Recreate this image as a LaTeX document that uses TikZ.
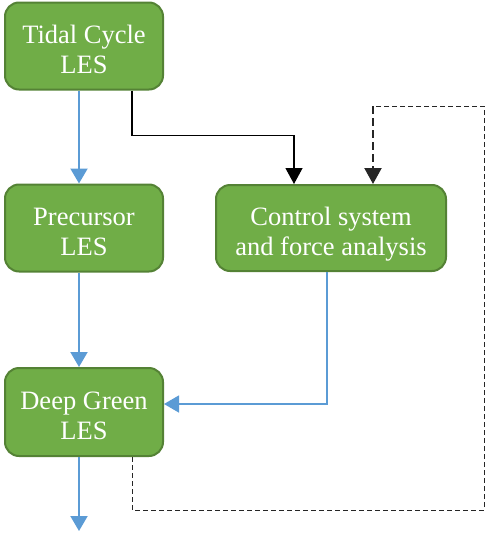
\documentclass[tikz,border=0pt]{standalone}
\usepackage{fontspec}
\setmainfont{Liberation Serif}
\usetikzlibrary{arrows.meta}
\definecolor{lesgreen}{HTML}{70AD47}
\definecolor{lesedge}{HTML}{548235}
\definecolor{flowblue}{HTML}{5B9BD5}
\tikzset{stage/.style 2 args={
    draw=lesedge,
    line width=2pt,
    fill=lesgreen,
    rounded corners=14pt,
    text=white,
    align=center,
    inner sep=0pt,
    text height=54pt,
    text depth=0pt,
    minimum width=#1,
    minimum height=#2,
    font=\fontsize{26.5}{30}\selectfont
}}
\tikzset{flow/.style={draw=flowblue, line width=#1, -{Triangle[width=17pt,length=15pt]}}}
\tikzset{link/.style={draw=black, line width=1.2pt, -{Triangle[width=17pt,length=16pt]}}}
\tikzset{feedback/.style={draw=black!85, line width=1pt, dash pattern=on 5pt off 3pt}}

\begin{document}
\begin{tikzpicture}[x=1pt,y=-1pt]
    \useasboundingbox (0,0) rectangle (485,533);

    % The LES stages, left column, and the control box on the right.
    \node[stage={158pt}{87pt}] (tidal) at (84,46) {Tidal Cycle\\LES};
    \node[stage={158pt}{87pt}] (precursor) at (84,228) {Precursor\\LES};
    \node[stage={158pt}{88pt}] (deepgreen) at (84,412) {Deep Green\\LES};
    \node[stage={230pt}{86pt}] (control) at (331,228) {Control system\\and force analysis};

    % Corners of the feedback loop.
    \coordinate (loopbr) at (484,510);
    \coordinate (looptr) at (484,106);
    \coordinate (loopdrop) at (373,106);
    \coordinate (out) at (79,531);

    % Main chain down the left.
    \draw[flow=2pt] ([xshift=-5pt]tidal.south) -- ([xshift=-5pt]precursor.north);
    \draw[flow=2pt] ([xshift=-5pt]precursor.south) -- ([xshift=-5pt]deepgreen.north);
    \draw[flow=2pt] ([xshift=-5pt]deepgreen.south) -- (out);

    % Tidal cycle into the control box.
    \draw[link] ([xshift=48pt]tidal.south) -- ++(0,45) -| ([xshift=-37pt]control.north);

    % Forces back into Deep Green.
    \draw[flow=1.5pt] ([xshift=-4pt]control.south) |- ([yshift=8pt]deepgreen.east);

    % Feedback loop from Deep Green round to the control box.
    \draw[feedback] ([xshift=48pt]deepgreen.south) |- (loopbr) -- (looptr) -- (loopdrop);
    \draw[feedback, line width=2.2pt, dash pattern=on 8pt off 4pt, -{Triangle[width=17pt,length=16pt]}]
        (loopdrop) -- ([xshift=42pt]control.north);

\end{tikzpicture}
\end{document}
